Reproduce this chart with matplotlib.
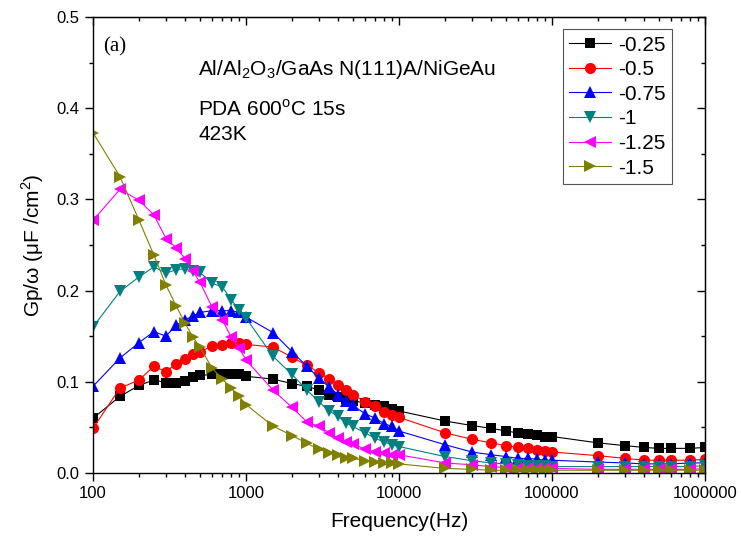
import matplotlib
matplotlib.use("Agg")
import matplotlib.pyplot as plt
from matplotlib.ticker import FixedLocator, FuncFormatter, MultipleLocator, LogLocator, NullFormatter

plt.rcParams['font.family'] = ['Liberation Sans', 'DejaVu Sans']
plt.rcParams['mathtext.fontset'] = 'custom'
plt.rcParams['mathtext.rm'] = 'Liberation Sans'

# frequencies (Hz)
freq = [100, 150, 200, 250, 300, 350, 400, 450, 500, 600, 700, 800, 900, 1000,
        1500, 2000, 2500, 3000, 3500, 4000, 4500, 5000, 6000, 7000, 8000, 9000, 10000,
        20000, 30000, 40000, 50000, 60000, 70000, 80000, 90000, 100000,
        200000, 300000, 400000, 500000, 600000, 800000, 1000000]

# Gp/w (uF/cm2) for each gate bias
g_025 = [0.060, 0.084, 0.096, 0.102, 0.099, 0.099, 0.101, 0.105, 0.107, 0.108, 0.108, 0.109, 0.109, 0.106,
         0.103, 0.098, 0.095, 0.091, 0.086, 0.083, 0.081, 0.079, 0.077, 0.075, 0.073, 0.070, 0.068,
         0.057, 0.052, 0.049, 0.046, 0.044, 0.043, 0.042, 0.040, 0.040,
         0.033, 0.030, 0.028, 0.027, 0.027, 0.027, 0.028]
g_05 = [0.049, 0.093, 0.102, 0.117, 0.111, 0.120, 0.125, 0.130, 0.133, 0.139, 0.140, 0.143, 0.142, 0.141,
        0.138, 0.127, 0.118, 0.110, 0.103, 0.097, 0.091, 0.086, 0.078, 0.073, 0.067, 0.064, 0.061,
        0.044, 0.037, 0.033, 0.030, 0.028, 0.027, 0.025, 0.024, 0.023,
        0.019, 0.016, 0.014, 0.014, 0.014, 0.014, 0.015]
g_075 = [0.095, 0.126, 0.143, 0.155, 0.150, 0.162, 0.168, 0.172, 0.176, 0.178, 0.178, 0.178, 0.176, 0.171,
         0.154, 0.133, 0.117, 0.104, 0.094, 0.086, 0.079, 0.074, 0.065, 0.060, 0.054, 0.051, 0.046,
         0.031, 0.023, 0.020, 0.018, 0.016, 0.016, 0.015, 0.014, 0.014,
         0.012, 0.011, 0.010, 0.010, 0.010, 0.011, 0.011]
g_1 = [0.160, 0.199, 0.215, 0.226, 0.219, 0.223, 0.224, 0.221, 0.220, 0.208, 0.204, 0.190, 0.179, 0.170,
       0.128, 0.108, 0.091, 0.078, 0.068, 0.062, 0.055, 0.051, 0.044, 0.038, 0.034, 0.031, 0.029,
       0.018, 0.0135, 0.011, 0.010, 0.009, 0.008, 0.008, 0.008, 0.007,
       0.007, 0.007, 0.007, 0.007, 0.007, 0.007, 0.008]
g_125 = [0.277, 0.311, 0.299, 0.283, 0.257, 0.247, 0.235, 0.221, 0.209, 0.182, 0.168, 0.149, 0.137, 0.124,
         0.091, 0.072, 0.056, 0.051, 0.044, 0.038, 0.034, 0.032, 0.026, 0.023, 0.022, 0.020, 0.020,
         0.011, 0.009, 0.007, 0.006, 0.006, 0.005, 0.005, 0.005, 0.005,
         0.004, 0.004, 0.004, 0.004, 0.004, 0.004, 0.005]
g_15 = [0.373, 0.325, 0.277, 0.239, 0.206, 0.183, 0.164, 0.149, 0.138, 0.115, 0.103, 0.093, 0.084, 0.075,
        0.0515, 0.041, 0.0325, 0.026, 0.022, 0.020, 0.016, 0.016, 0.0135, 0.012, 0.011, 0.0105, 0.010,
        0.005, 0.004, 0.003, 0.003, 0.003, 0.003, 0.003, 0.003, 0.003,
        0.003, 0.003, 0.003, 0.003, 0.003, 0.003, 0.003]

series = [g_025, g_05, g_075, g_1, g_125, g_15]
labels = ['-0.25', '-0.5', '-0.75', '-1', '-1.25', '-1.5']
colors = ['#000000', '#ff0000', '#0000ff', '#008080', '#ff00ff', '#808000']
markers = ['s', 'o', '^', 'v', '<', '>']
msizes = [7, 8, 8.5, 8.5, 8.5, 8.5]

fig = plt.figure(figsize=(7.41, 5.47), dpi=100)
ax = fig.add_axes([0.1255, 0.1353, 0.8259, 0.8337])

for ys, lab, c, m, ms in zip(series, labels, colors, markers, msizes):
    ax.plot(freq, ys, color=c, marker=m, markersize=ms, linewidth=0.8,
            markeredgewidth=0, label=lab)

ax.set_xscale('log')
ax.set_xlim(100, 1000000)
ax.set_ylim(0, 0.5)
ax.xaxis.set_major_locator(FixedLocator([100, 1000, 10000, 100000, 1000000]))
ax.xaxis.set_major_formatter(FuncFormatter(lambda v, p: '%d' % round(v)))
ax.xaxis.set_minor_locator(LogLocator(base=10, subs=range(2, 10), numticks=20))
ax.xaxis.set_minor_formatter(NullFormatter())
ax.yaxis.set_major_locator(MultipleLocator(0.1))
ax.yaxis.set_minor_locator(MultipleLocator(0.05))
ax.yaxis.set_major_formatter(FuncFormatter(lambda v, p: '%.1f' % v))

ax.tick_params(which='major', direction='out', length=6, width=1, labelsize=12)
ax.tick_params(which='minor', direction='out', length=3, width=1)
for s in ax.spines.values():
    s.set_linewidth(1.0)

# mirrored ticks on top and right pointing inward
top = ax.secondary_xaxis('top')
top.xaxis.set_major_locator(FixedLocator([100, 1000, 10000, 100000, 1000000]))
top.xaxis.set_minor_locator(LogLocator(base=10, subs=range(2, 10), numticks=20))
top.tick_params(which='major', direction='in', length=6, width=1, labeltop=False)
top.tick_params(which='minor', direction='in', length=3, width=1)
top.xaxis.set_minor_formatter(NullFormatter())
right = ax.secondary_yaxis('right')
right.yaxis.set_major_locator(MultipleLocator(0.1))
right.yaxis.set_minor_locator(MultipleLocator(0.05))
right.tick_params(which='major', direction='in', length=6, width=1, labelright=False)
right.tick_params(which='minor', direction='in', length=3, width=1)

ax.set_xlabel('Frequency(Hz)', fontsize=15, labelpad=8)
ax.set_ylabel('Gp/ω (μF /cm$^2$)', fontsize=15, labelpad=8)

ax.text(0.016, 0.934, '(a)', transform=ax.transAxes, fontsize=15,
        family='Liberation Serif', va='center', ha='left')
ax.text(0.172, 0.885, r'Al/Al$_2$O$_3$/GaAs N(111)A/NiGeAu', transform=ax.transAxes,
        fontsize=15, va='center', ha='left')
ax.text(0.172, 0.797, r'PDA 600$^{\rm o}$C 15s', transform=ax.transAxes,
        fontsize=15, va='center', ha='left')
ax.text(0.172, 0.742, '423K', transform=ax.transAxes,
        fontsize=15, va='center', ha='left')

leg = ax.legend(loc='upper left', bbox_to_anchor=(0.768, 0.973), fontsize=15,
                frameon=True, fancybox=False, framealpha=1, edgecolor='#555555',
                handlelength=2.0, handletextpad=0.35, labelspacing=0.27,
                borderpad=0.3, borderaxespad=0)
leg.get_frame().set_linewidth(0.8)

fig.savefig('out.png', dpi=100)
